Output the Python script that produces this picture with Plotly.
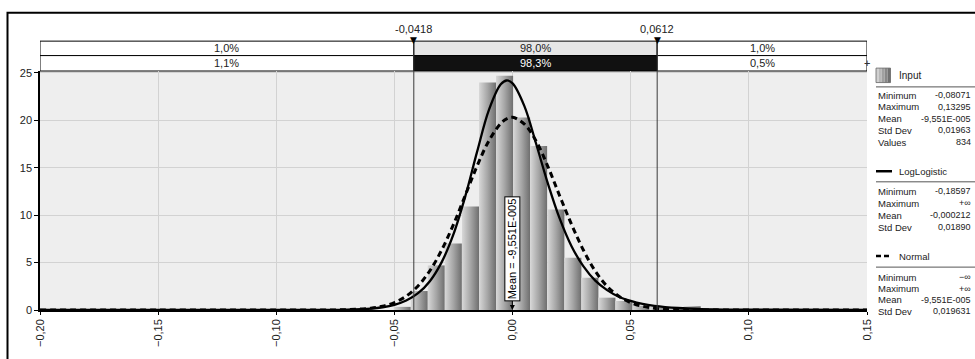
import plotly.graph_objects as go

# ---------------- data ----------------
bin_left = [-0.0503, -0.0431, -0.0359, -0.0287, -0.0214, -0.0142, -0.0070, 0.0002,
            0.0074, 0.0147, 0.0219, 0.0291, 0.0363, 0.0435, 0.0508, 0.0580,
            0.0652, 0.0724, 0.0796]
bin_width = 0.00722
hist_density = [0.33, 2.0, 4.7, 7.0, 10.9, 24.0, 24.7, 20.3, 17.3, 10.6, 5.5, 3.4,
                1.3, 0.95, 0.45, 0.33, 0.17, 0.4, 0.17]

curve_x = [-0.20, -0.15, -0.10, -0.08, -0.07, -0.06, -0.055, -0.05, -0.045, -0.04,
           -0.035, -0.03, -0.025, -0.02, -0.015, -0.01, -0.005, -0.0025, 0.0, 0.005,
           0.01, 0.015, 0.02, 0.025, 0.03, 0.035, 0.04, 0.045, 0.05, 0.055, 0.06,
           0.07, 0.08, 0.10, 0.15]
loglogistic_y = [0.0, 0.0, 0.0, 0.01, 0.04, 0.15, 0.29, 0.55, 1.0, 1.77,
                 3.04, 5.05, 8.0, 12.0, 16.7, 21.1, 23.8, 24.2, 23.9, 21.5,
                 17.5, 13.3, 9.6, 6.7, 4.6, 3.1, 2.1, 1.4, 0.96, 0.64, 0.44,
                 0.21, 0.10, 0.03, 0.0]
normal_y = [0.0, 0.0, 0.0, 0.005, 0.035, 0.19, 0.40, 0.79, 1.46, 2.54,
            4.14, 6.32, 9.03, 12.1, 15.2, 17.85, 19.67, 20.16, 20.32, 19.6,
            17.8, 15.1, 12.0, 9.0, 6.3, 4.1, 2.5, 1.45, 0.78, 0.40, 0.19,
            0.035, 0.005, 0.0, 0.0]

delimiters = [-0.0418, 0.0612]
delimiter_labels = ["-0,0418", "0,0612"]
band_fit = ["1,0%", "98,0%", "1,0%"]
band_input = ["1,1%", "98,3%", "0,5%"]

x_ticks = [-0.20, -0.15, -0.10, -0.05, 0.00, 0.05, 0.10, 0.15]
y_ticks = [0, 5, 10, 15, 20, 25]

mean_value = -9.551e-05
mean_label = "Mean = -9,551E-005"

input_stats = [("Minimum", "-0,08071"), ("Maximum", "0,13295"), ("Mean", "-9,551E-005"),
               ("Std Dev", "0,01963"), ("Values", "834")]
loglogistic_stats = [("Minimum", "-0,18597"), ("Maximum", "+\u221e"), ("Mean", "-0,000212"),
                     ("Std Dev", "0,01890")]
normal_stats = [("Minimum", "\u2212\u221e"), ("Maximum", "+\u221e"), ("Mean", "-9,551E-005"),
                ("Std Dev", "0,019631")]

# ---------------- layout constants ----------------
W, H = 975, 359
ML, MR, MT, MB = 40, 108, 71, 40
PW, PH = W - ML - MR, H - MT - MB
XR = [-0.20, 0.15]
YR = [0, 25.2]
FONT = "Liberation Sans, Arial, sans-serif"


def px_x(px):
    return (px - ML) / PW


def px_y(py):
    return (H - MB - py) / PH


fig = go.Figure()

# histogram bars with horizontal gradient
grad = [[0, "#d8d8d8"], [0.5, "#a6a6a6"], [1, "#6e6e6e"]]
for l, h in zip(bin_left, hist_density):
    r = l + bin_width
    fig.add_trace(go.Scatter(
        x=[l, l, r, r, l], y=[0, h, h, 0, 0], mode="lines", fill="toself",
        fillgradient=dict(type="horizontal", colorscale=grad),
        line=dict(width=0, color="rgba(0,0,0,0)"), hoverinfo="skip", showlegend=False))

# fitted curves
fig.add_trace(go.Scatter(x=curve_x, y=normal_y, mode="lines", line_shape="spline",
                         line=dict(color="black", width=3, dash="6px,4px"),
                         cliponaxis=False, showlegend=False, hoverinfo="skip"))
fig.add_trace(go.Scatter(x=curve_x, y=loglogistic_y, mode="lines", line_shape="spline",
                         line=dict(color="black", width=2.3),
                         cliponaxis=False, showlegend=False, hoverinfo="skip"))

shapes = []
annotations = []

# delimiter vertical lines
for d in delimiters:
    shapes.append(dict(type="line", xref="x", yref="paper", x0=d, x1=d,
                       y0=0, y1=px_y(38), line=dict(color="#3a3a3a", width=1),
                       layer="above"))

# bands
seg_edges = [XR[0]] + delimiters + [XR[1]]
row_fit = (px_y(40), px_y(55))
row_inp = (px_y(55), px_y(71))
fit_fill = ["white", "#e6e6e6", "white"]
inp_fill = ["white", "#111111", "white"]
inp_font = ["#222", "white", "#222"]
for i in range(3):
    x0, x1 = seg_edges[i], seg_edges[i + 1]
    shapes.append(dict(type="rect", xref="x", yref="paper", x0=x0, x1=x1,
                       y0=row_fit[1], y1=row_fit[0], fillcolor=fit_fill[i],
                       line=dict(color="black", width=1), layer="below"))
    shapes.append(dict(type="rect", xref="x", yref="paper", x0=x0, x1=x1,
                       y0=row_inp[1], y1=row_inp[0], fillcolor=inp_fill[i],
                       line=dict(color="black", width=1), layer="below"))
    annotations.append(dict(xref="x", yref="paper", x=(x0 + x1) / 2,
                            y=(row_fit[0] + row_fit[1]) / 2, text=band_fit[i],
                            xanchor="center", yanchor="middle",
                            showarrow=False, font=dict(size=11, color="#222", family=FONT)))
    annotations.append(dict(xref="x", yref="paper", x=(x0 + x1) / 2,
                            y=(row_inp[0] + row_inp[1]) / 2, text=band_input[i],
                            xanchor="center", yanchor="middle",
                            showarrow=False, font=dict(size=11, color=inp_font[i], family=FONT)))

# delimiter labels and triangles
for d, t in zip(delimiters, delimiter_labels):
    annotations.append(dict(xref="x", yref="paper", x=d, y=px_y(27), text=t,
                            xanchor="center", yanchor="middle",
                            showarrow=False, font=dict(size=11, color="#222", family=FONT)))
    annotations.append(dict(xref="x", yref="paper", x=d, y=px_y(38.5), text="\u25bc",
                            xanchor="center", yanchor="middle", showarrow=False,
                            font=dict(size=9, color="black", family="DejaVu Sans")))

# small crosshair at right end of the input band
annotations.append(dict(xref="x", yref="paper", x=XR[1], y=px_y(63), text="+",
                        xanchor="center", yanchor="middle", showarrow=False,
                        font=dict(size=11, color="#333", family=FONT)))

# mean marker
annotations.append(dict(xref="x", yref="y", x=mean_value, y=0, text=mean_label,
                        textangle=-90, showarrow=True, ax=0, ay=-61, arrowhead=2,
                        arrowsize=1, arrowwidth=1, arrowcolor="black",
                        bgcolor="white", bordercolor="black", borderwidth=1, borderpad=1,
                        font=dict(size=11, color="black", family=FONT)))

# outer frame
shapes.append(dict(type="rect", xref="paper", yref="paper", x0=px_x(7.5), x1=px_x(990),
                   y0=px_y(380), y1=px_y(10.5), line=dict(color="black", width=2),
                   fillcolor="rgba(0,0,0,0)"))

# ---------------- legend panel ----------------
LX0, LX1, VX = 876, 975, 973


def legend_text(px, py, text, anchor="left", size=9.5):
    annotations.append(dict(xref="paper", yref="paper", x=px_x(px), y=px_y(py), text=text,
                            xanchor=anchor, yanchor="middle", showarrow=False,
                            font=dict(size=size, color="#222", family=FONT)))


def separator(py):
    shapes.append(dict(type="line", xref="paper", yref="paper", x0=px_x(LX0), x1=px_x(LX1),
                       y0=px_y(py), y1=px_y(py), line=dict(color="#555", width=1)))


# Input header with gradient-like square
greys = ["#d0d0d0", "#b8b8b8", "#a0a0a0", "#888888", "#707070"]
for k, g in enumerate(greys):
    shapes.append(dict(type="rect", xref="paper", yref="paper",
                       x0=px_x(876 + k * 2.9), x1=px_x(876 + (k + 1) * 2.9),
                       y0=px_y(83), y1=px_y(68), fillcolor=g, line=dict(width=0)))
shapes.append(dict(type="rect", xref="paper", yref="paper", x0=px_x(876), x1=px_x(890.5),
                   y0=px_y(83), y1=px_y(68), line=dict(color="#666", width=0.8)))
legend_text(897, 76, "Input", size=10)
separator(87.5)
for i, (lab, val) in enumerate(input_stats):
    py = 96 + i * 12.2
    legend_text(LX0, py, lab)
    legend_text(VX, py, val, anchor="right", size=9)

# LogLogistic
shapes.append(dict(type="line", xref="paper", yref="paper", x0=px_x(876), x1=px_x(892),
                   y0=px_y(175), y1=px_y(175), line=dict(color="black", width=2.5)))
legend_text(897, 175, "LogLogistic")
separator(186)
for i, (lab, val) in enumerate(loglogistic_stats):
    py = 196 + i * 12.3
    legend_text(LX0, py, lab)
    legend_text(VX, py, val, anchor="right", size=9)

# Normal
shapes.append(dict(type="line", xref="paper", yref="paper", x0=px_x(876), x1=px_x(892),
                   y0=px_y(263), y1=px_y(263),
                   line=dict(color="black", width=2.5, dash="5px,3px")))
legend_text(897, 263, "Normal")
separator(274.5)
for i, (lab, val) in enumerate(normal_stats):
    py = 285 + i * 11.7
    legend_text(LX0, py, lab)
    legend_text(VX, py, val, anchor="right", size=9)

fig.update_layout(
    width=W, height=H,
    margin=dict(l=ML, r=MR, t=MT, b=MB, pad=0),
    paper_bgcolor="white", plot_bgcolor="#eeeeee",
    separators=",.",
    showlegend=False,
    font=dict(family=FONT, size=11, color="#222"),
    xaxis=dict(range=XR, tickvals=x_ticks, tickformat=".2f", tickangle=-90,
               showgrid=True, gridcolor="#d2d2d2", gridwidth=1, zeroline=False,
               showline=True, linecolor="black", linewidth=1.5, ticks="outside",
               ticklen=3, tickcolor="black", tickfont=dict(size=11, family=FONT, color="#222")),
    yaxis=dict(range=YR, tickvals=y_ticks, showgrid=True, gridcolor="#d2d2d2", gridwidth=1,
               zeroline=False, showline=True, linecolor="black", linewidth=1.5,
               ticks="outside", ticklen=4, tickcolor="black",
               tickfont=dict(size=11, family=FONT, color="#222")),
    shapes=shapes,
    annotations=annotations,
)

fig.write_html("out.html")
